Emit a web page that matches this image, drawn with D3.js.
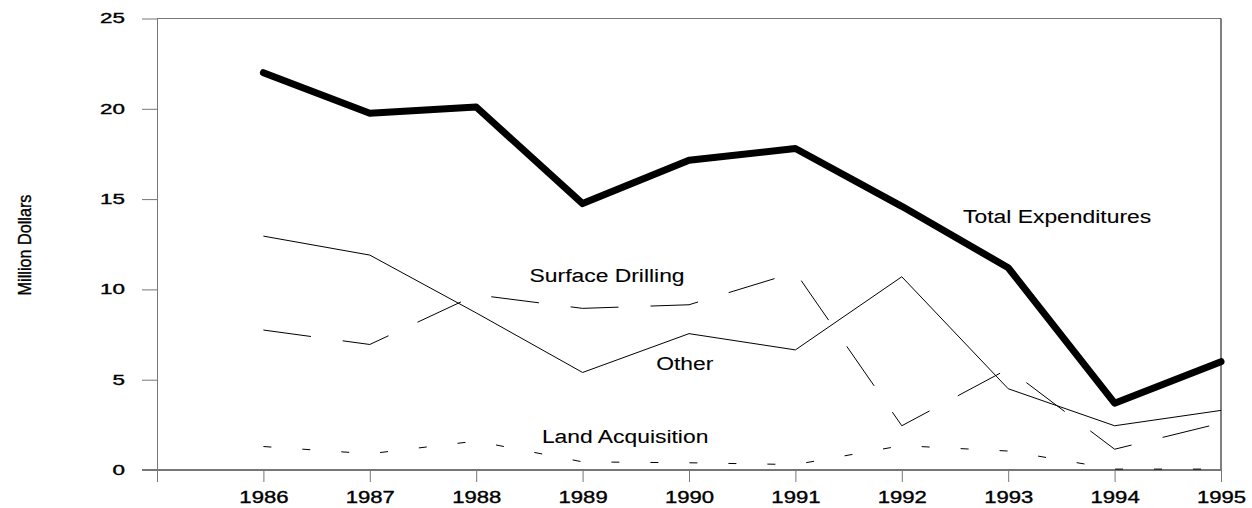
<!DOCTYPE html>
<html>
<head>
<meta charset="utf-8">
<script src="https://cdn.jsdelivr.net/npm/d3@7"></script>
<style>
  body { margin: 0; background: #fff; }
  svg { display: block; font-family: "Liberation Sans", Arial, sans-serif; }
  .axis-text { stroke: #000; stroke-width: 0.35px; }
  .series-label { stroke: #000; stroke-width: 0.1px; }
</style>
</head>
<body>
<svg id="chart" width="1252" height="508"></svg>
<script>
var w = 1252;
var h = 508;

// values (million dollars)
var years = [1986, 1987, 1988, 1989, 1990, 1991, 1992, 1993, 1994, 1995];
var total = [22.0, 19.75, 20.1, 14.75, 17.15, 17.8, 14.6, 11.2, 3.7, 6.0];
var other = [12.95, 11.9, 8.7, 5.4, 7.55, 6.65, 10.7, 4.5, 2.45, 3.3];
var surface = [7.75, 6.95, 9.7, 8.95, 9.15, 10.95, 2.45, 5.6, 1.15, 2.6];
var land = [1.3, 0.9, 1.6, 0.45, 0.4, 0.3, 1.35, 1.05, 0.05, 0.05];
var yTicks = [0, 5, 10, 15, 20, 25];

// label anchors in data units (year, value)
var labelNames = ["Total Expenditures", "Surface Drilling", "Other", "Land Acquisition"];
var labelYears = [1993.46, 1989.23, 1989.96, 1989.4];
var labelValues = [13.7, 10.4, 5.53, 1.52];

var svg = d3.select("#chart");

var xScale = d3.scaleLinear().domain([1985, 1995]).range([157, 1221]);
var yScale = d3.scaleLinear().domain([0, 25]).range([470, 18.5]);

// stretch text horizontally like the original plotter output
function stretch(sel, k) {
  sel.each(function() {
    var len = this.getComputedTextLength();
    d3.select(this)
      .attr("textLength", len * k)
      .attr("lengthAdjust", "spacingAndGlyphs");
  });
}

// frame: top and right
svg.append("line")
  .attr("x1", xScale(1985)).attr("x2", xScale(1995))
  .attr("y1", yScale(25)).attr("y2", yScale(25))
  .attr("stroke", "#777").attr("stroke-width", 1);
svg.append("line")
  .attr("x1", xScale(1995)).attr("x2", xScale(1995))
  .attr("y1", yScale(25)).attr("y2", yScale(0))
  .attr("stroke", "#000").attr("stroke-width", 1);

// y axis
var yAxis = svg.append("g")
  .attr("transform", "translate(" + xScale(1985) + ",0)")
  .call(d3.axisLeft(yScale)
    .tickValues(yTicks)
    .tickSize(15)
    .tickSizeOuter(0)
    .tickPadding(17));
yAxis.select(".domain").attr("stroke", "#777");
yAxis.selectAll(".tick line").attr("stroke", "#777");
yAxis.selectAll("text")
  .attr("class", "axis-text")
  .attr("fill", "#000")
  .style("font-size", "14px")
  .call(stretch, 1.6);

// x axis
var xAxis = svg.append("g")
  .attr("transform", "translate(0," + yScale(0) + ")")
  .call(d3.axisBottom(xScale)
    .tickValues([1985].concat(years))
    .tickFormat(function(d) { return d === 1985 ? "" : d; })
    .tickSize(12)
    .tickSizeOuter(0)
    .tickPadding(10));
xAxis.select(".domain")
  .attr("d", "M" + (xScale(1985) - 15) + ",0H" + xScale(1995))
  .attr("stroke", "#777").attr("stroke-width", 2);
xAxis.selectAll(".tick line").attr("stroke", "#777");
xAxis.selectAll("text")
  .attr("class", "axis-text")
  .attr("fill", "#000")
  .style("font-size", "16px")
  .call(stretch, 1.38);

// y label
svg.append("text")
  .attr("class", "axis-text")
  .attr("transform", "translate(31,245) rotate(-90)")
  .attr("text-anchor", "middle")
  .style("font-size", "18px")
  .text("Million Dollars")
  .call(stretch, 0.9);

var line = d3.line()
  .x(function(d, i) { return xScale(years[i]); })
  .y(function(d) { return yScale(d); });

svg.append("path")
  .datum(land)
  .attr("d", line)
  .attr("fill", "none")
  .attr("stroke", "#000")
  .attr("stroke-width", 1)
  .attr("stroke-dasharray", "8,31");

svg.append("path")
  .datum(surface)
  .attr("d", line)
  .attr("fill", "none")
  .attr("stroke", "#000")
  .attr("stroke-width", 1)
  .attr("stroke-dasharray", "48,32");

svg.append("path")
  .datum(other)
  .attr("d", line)
  .attr("fill", "none")
  .attr("stroke", "#000")
  .attr("stroke-width", 1);

svg.append("path")
  .datum(total)
  .attr("d", line)
  .attr("fill", "none")
  .attr("stroke", "#000")
  .attr("stroke-width", 7)
  .attr("stroke-linecap", "round")
  .attr("stroke-linejoin", "round");

// series labels
svg.append("g")
  .selectAll("text")
  .data(labelNames)
  .enter()
  .append("text")
  .attr("class", "series-label")
  .attr("x", function(d, i) { return xScale(labelYears[i]); })
  .attr("y", function(d, i) { return yScale(labelValues[i]); })
  .attr("text-anchor", "middle")
  .style("font-size", "18px")
  .text(function(d) { return d; })
  .call(stretch, 1.27);
</script>
</body>
</html>
